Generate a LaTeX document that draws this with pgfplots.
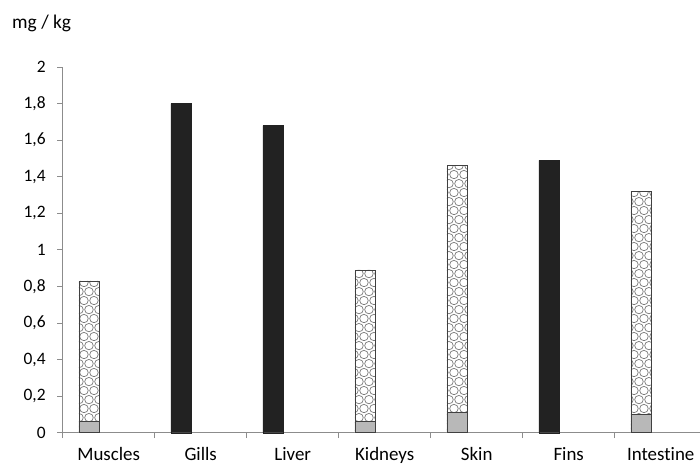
\documentclass[border=0pt]{standalone}
\usepackage{fontspec}
\setmainfont{Carlito}[Ligatures=NoCommon]
\usepackage{pgfplots}
\pgfplotsset{compat=1.18}
\usetikzlibrary{patterns.meta}

% cobblestone fill of the patterned bars
\tikzdeclarepattern{
  name=cobble,
  type=uncolored,
  bounding box={(0pt,0pt) and (10pt,18pt)},
  tile size={(10pt,18pt)},
  code={
    \draw[line width=0.7pt] (5pt,4.5pt) ellipse (4.3pt and 4.2pt);
    \draw[line width=0.7pt] (0pt,13.5pt) ellipse (4.3pt and 4.2pt);
    \draw[line width=0.7pt] (10pt,13.5pt) ellipse (4.3pt and 4.2pt);
  }
}

\definecolor{barblack}{HTML}{222222}
\definecolor{bargray}{HTML}{B8B8B8}
\definecolor{axisgray}{HTML}{8C8C8C}

\begin{document}
\begin{tikzpicture}
\useasboundingbox (0,0) rectangle (700bp,466bp);
\begin{axis}[
    at={(62.7bp,33.3bp)}, anchor=south west,
    scale only axis,
    width=637.3bp, height=365.7bp,
    xmin=-0.5, xmax=6.427,
    ymin=0, ymax=2,
    axis x line=bottom, axis y line=left,
    axis line style={-, draw=axisgray, line width=0.8pt},
    xtick={0,...,6},
    xticklabels={Muscles,Gills,Liver,Kidneys,Skin,Fins,Intestine},
    minor xtick={-0.5,0.5,1.5,2.5,3.5,4.5,5.5},
    major x tick style={draw=none},
    ytick={0,0.2,...,2.01},
    tick align=outside,
    major tick length=5.5bp, minor tick length=5.5bp,
    tick style={draw=axisgray, line width=0.8pt},
    /pgf/number format/assume math mode=true,
    /pgf/number format/use comma,
    /pgf/number format/fixed,
    /pgf/number format/precision=1,
    yticklabel style={font=\fontsize{17.5}{17.5}\selectfont, xshift=-8bp},
    xticklabel style={font=\fontsize{19}{19}\selectfont, yshift=-5.5bp},
    clip=false,
]
\addplot[ybar, bar width=20.5bp, bar shift=-19.5bp, draw=black!75, line width=0.8pt,
    fill=white, postaction={pattern=cobble, pattern color=gray!95!black}]
    coordinates {(0,0.83) (3,0.89) (4,1.46) (6,1.32)};
\addplot[ybar, bar width=20.5bp, bar shift=-19.5bp, draw=black!75, line width=0.8pt,
    fill=bargray]
    coordinates {(0,0.06) (3,0.06) (4,0.11) (6,0.10)};
\addplot[ybar, bar width=20.5bp, bar shift=-19.5bp, draw=barblack, fill=barblack]
    coordinates {(1,1.80) (2,1.68) (5,1.49)};
\end{axis}
\node[anchor=base west, inner sep=0pt, font=\fontsize{19.5}{19.5}\selectfont] at (12bp,437bp) {mg / kg};
\end{tikzpicture}
\end{document}
